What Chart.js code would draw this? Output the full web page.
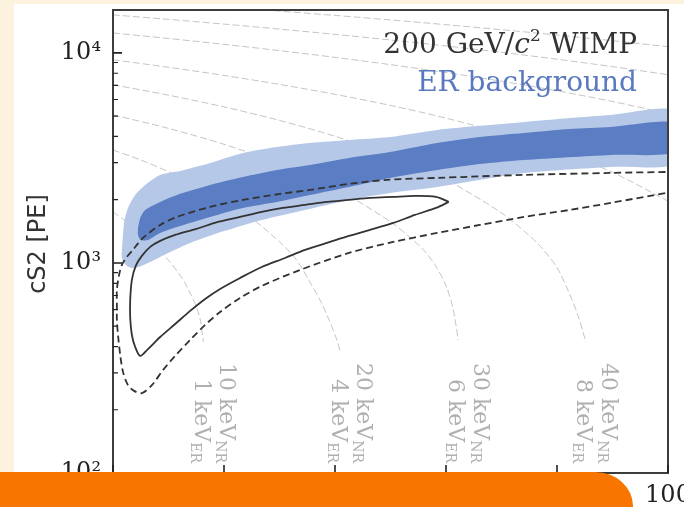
<!DOCTYPE html>
<html>
<head>
<meta charset="utf-8">
<script src="https://cdn.jsdelivr.net/npm/chart.js@4.4.0/dist/chart.umd.min.js"></script>
<style>
html, body { margin: 0; padding: 0; }
body { width: 684px; height: 507px; background: #fdf2dd; position: relative; overflow: hidden; }
#panel { position: absolute; left: 14px; top: 4px; width: 670px; height: 503px; background: #fff; }
#bar { position: absolute; left: 0; top: 472px; width: 633px; height: 35px; background: #f87500; border-top-right-radius: 38px 34px; }
</style>
</head>
<body>
<div id="panel"><canvas id="chart" width="670" height="503"></canvas></div>
<div id="bar"></div>
<script>
// axes
const xTicks = [0, 20, 40, 60, 80, 100];
const yTicks = [100, 1000, 10000];
const yTickLabels = ['10²', '10³', '10⁴'];

// ER background bands, outlines as [cS1, cS2]
const erOuter = [[1.6,1153],[2.0,1550],[2.7,1828],[4.0,2108],[5.8,2352],[8.5,2625],[12.1,2743],[17.5,2994],
    [23.4,3340],[29.5,3568],[35.5,3728],[42.5,3852],[49.9,3981],[58.4,4299],[66.1,4493],[74.1,4693],
    [82.3,4903],[89.7,5068],[101.5,5294],[101.5,2994],[89.7,2865],[74.1,2683],[58.4,2301],[49.9,2154],
    [42.5,1995],[34.6,1788],[26.8,1602],[18.9,1389],[13.9,1245],[10.3,1128],[6.7,1011],[4.0,947],
    [2.5,968],[1.6,1056],[1.6,1153]];
const erInner = [[4.5,1468],[4.9,1638],[5.8,1788],[8.5,1952],[11.5,2108],[17.5,2352],[23.4,2567],[29.5,2773],
    [35.5,2929],[42.5,3162],[49.9,3377],[58.4,3728],[66.1,3981],[74.1,4159],[82.3,4346],[89.7,4443],
    [101.5,4642],[101.5,3377],[89.7,3268],[74.1,3094],[66.1,2961],[58.4,2773],[49.9,2540],[42.5,2301],
    [35.5,2108],[29.5,1952],[23.4,1828],[17.5,1656],[11.5,1484],[8.5,1389],[6.3,1287],[5.0,1287],
    [4.5,1359],[4.5,1468]];

// 200 GeV WIMP contours
const wimpInner = [[60.5,1952],[58.2,2063],[54.4,2084],[50.5,2063],[46.3,2040],[42.5,1995],[38.6,1952],
    [34.6,1889],[30.6,1828],[26.8,1750],[22.9,1656],[18.9,1567],[15.0,1452],[11.2,1359],[8.5,1273],
    [6.7,1192],[5.2,1080],[4.1,968],[3.4,830],[3.1,666],[3.1,547],[3.4,454],[4.0,398],[4.9,361],
    [6.3,389],[8.5,444],[11.2,512],[13.9,591],[16.6,674],[19.3,752],[22.9,848],[26.8,957],[31.0,1056],
    [34.6,1153],[39.1,1259],[42.5,1345],[46.3,1437],[50.5,1550],[54.4,1693],[58.2,1828],[60.5,1952]];
const wimpOuter = [[101.5,2714],[89.7,2683],[74.1,2625],[58.4,2540],[49.4,2485],[42.5,2378],[35.5,2227],
    [30.1,2131],[23.4,1995],[17.5,1848],[11.5,1656],[8.5,1517],[5.6,1330],[4.3,1218],[3.6,1153],
    [2.5,1068],[1.6,979],[1.1,877],[0.7,744],[0.7,631],[0.7,535],[0.9,454],[1.3,365],[1.8,303],
    [2.7,262],[3.8,246],[5.2,240],[7.0,262],[9.0,309],[11.2,361],[13.9,430],[16.6,507],[19.3,584],
    [22.9,681],[26.8,777],[33.7,926],[42.5,1116],[50.5,1259],[58.4,1389],[66.1,1517],[74.1,1656],
    [82.3,1788],[89.7,1931],[101.5,2200]];

// iso-energy lines
const isoA = [[0,1750],[3,1530],[6,1310],[8,1170],[10,1030],[12,880],[13,800],[14,710],[15,620],[15.7,540],[16.3,420]];
const isoB = [[0,3450],[5,3090],[10,2720],[15,2360],[20,1990],[25,1630],[30,1260],[33,1040],[35.5,810],
    [37.5,650],[39,530],[40.2,440],[41,375]];
const isoC = [[0,5070],[10,4370],[20,3670],[30,2970],[40,2270],[50,1570],[54,1290],[56,1150],[58,980],
    [60,780],[61.3,600],[62.2,430]];
const isoD = [[0,7050],[10,6290],[20,5530],[30,4770],[40,4010],[50,3250],[60,2490],[70,1730],[75,1350],
    [77.5,1160],[80,950],[82,740],[83.8,560],[85.2,420]];
const isoE = [[0,9270],[10,8540],[20,7810],[30,7080],[40,6350],[50,5620],[60,4890],[70,4160],[80,3430],[90,2700],[100,1970]];
const isoF = [[0,12440],[10,11710],[20,10980],[30,10250],[40,9520],[50,8790],[60,8060],[70,7330],[80,6600],[90,5870],[100,5140]];
const isoG = [[0,15170],[10,14440],[20,13710],[30,12980],[40,12250],[50,11520],[60,10790],[70,10060],[80,9330],[90,8600],[100,7870]];
const isoH = [[20,16540],[30,15810],[40,15080],[50,14350],[60,13620],[70,12890],[80,12160],[90,11430],[100,10700]];
const isoNR = ['10 keV', '20 keV', '30 keV', '40 keV'];
const isoER = ['1 keV', '4 keV', '6 keV', '8 keV'];

function pts(arr) {
    return arr.map(p => ({x: p[0], y: p[1]}));
}

function grayLine(arr) {
    return {data: pts(arr), borderColor: 'rgba(150,150,150,0.55)', borderWidth: 1, borderDash: [7, 3],
        tension: 0.3, order: 10};
}

function drawRotated(ctx, cx, yEnd, main, sub) {
    ctx.save();
    ctx.translate(cx, yEnd);
    ctx.rotate(Math.PI / 2);
    ctx.textBaseline = 'middle';
    ctx.textAlign = 'left';
    ctx.font = '22px "DejaVu Serif"';
    const w1 = ctx.measureText(main).width;
    ctx.font = '14px "DejaVu Serif"';
    const w2 = ctx.measureText(sub).width;
    ctx.font = '22px "DejaVu Serif"';
    ctx.fillText(main, -w1 - w2, 0);
    ctx.font = '14px "DejaVu Serif"';
    ctx.fillText(sub, -w2, 6);
    ctx.restore();
}

const decor = {
    id: 'decor',
    afterDatasetsDraw(chart) {
        const {ctx, chartArea: a, scales: {x, y}} = chart;
        ctx.save();

        // labels of the iso-energy lines
        ctx.fillStyle = '#b0b0b0';
        [isoA, isoB, isoC, isoD].forEach((line, i) => {
            const end = line[line.length - 1];
            const px = x.getPixelForValue(end[0]);
            drawRotated(ctx, px + 22, a.bottom - 10, isoNR[i], 'NR');
            drawRotated(ctx, px - 3, a.bottom - 10, isoER[i], 'ER');
        });

        // frame
        ctx.strokeStyle = '#3d3d3d';
        ctx.lineWidth = 2;
        ctx.strokeRect(a.left, a.top, a.right - a.left, a.bottom - a.top);

        // inward ticks
        ctx.strokeStyle = '#222';
        ctx.lineWidth = 1.6;
        ctx.beginPath();
        xTicks.forEach(v => {
            const px = x.getPixelForValue(v);
            ctx.moveTo(px, a.bottom);
            ctx.lineTo(px, a.bottom - 8);
        });
        yTicks.forEach(v => {
            const py = y.getPixelForValue(v);
            ctx.moveTo(a.left, py);
            ctx.lineTo(a.left + 9, py);
        });
        ctx.stroke();
        ctx.lineWidth = 1.2;
        ctx.beginPath();
        [100, 1000].forEach(d => {
            for (let m = 2; m <= 9; m++) {
                const py = y.getPixelForValue(m * d);
                ctx.moveTo(a.left, py);
                ctx.lineTo(a.left + 5, py);
            }
        });
        ctx.stroke();

        // legend text
        const right = a.right - 31;
        ctx.textBaseline = 'alphabetic';
        ctx.textAlign = 'left';
        const parts = [
            ['200 GeV/', '28px "DejaVu Serif"', 0],
            ['c', 'italic 28px "DejaVu Serif"', 0],
            ['2', '17px "DejaVu Serif"', -12],
            [' WIMP', '28px "DejaVu Serif"', 0]
        ];
        let total = 0;
        parts.forEach(p => { ctx.font = p[1]; total += ctx.measureText(p[0]).width; });
        let cx = right - total;
        ctx.fillStyle = '#333';
        parts.forEach(p => {
            ctx.font = p[1];
            ctx.fillText(p[0], cx, 49 + p[2]);
            cx += ctx.measureText(p[0]).width;
        });
        ctx.font = '28px "DejaVu Serif"';
        ctx.textAlign = 'right';
        ctx.fillStyle = '#5a7abf';
        ctx.fillText('ER background', right, 87);

        // y title
        ctx.translate(25, 240);
        ctx.rotate(-Math.PI / 2);
        ctx.textAlign = 'center';
        ctx.textBaseline = 'middle';
        ctx.fillStyle = '#333';
        ctx.font = '24px "DejaVu Sans"';
        ctx.fillText('cS2 [PE]', 0, 0);
        ctx.restore();
    }
};

const tickFont = {family: 'DejaVu Serif', size: 24};

new Chart(document.getElementById('chart'), {
    type: 'scatter',
    data: {
        datasets: [
            grayLine(isoA), grayLine(isoB), grayLine(isoC), grayLine(isoD),
            grayLine(isoE), grayLine(isoF), grayLine(isoG), grayLine(isoH),
            {data: pts(erOuter), borderWidth: 0, borderColor: 'rgba(0,0,0,0)', backgroundColor: '#b6c8e8',
                fill: 'shape', tension: 0.25, order: 8},
            {data: pts(erInner), borderWidth: 0, borderColor: 'rgba(0,0,0,0)', backgroundColor: '#5a7dc3',
                fill: 'shape', tension: 0.25, order: 7},
            {data: pts(wimpOuter), borderColor: '#333', borderWidth: 1.8, borderDash: [7, 4],
                tension: 0.3, order: 2},
            {data: pts(wimpInner), borderColor: '#333', borderWidth: 1.8, tension: 0.3, order: 1}
        ]
    },
    options: {
        responsive: false,
        animation: false,
        showLine: true,
        clip: 0,
        elements: {point: {radius: 0, hoverRadius: 0}},
        layout: {padding: {left: 0, right: 16, top: 6, bottom: 0}},
        plugins: {legend: {display: false}, tooltip: {enabled: false}},
        events: [],
        scales: {
            x: {
                type: 'linear', min: 0, max: 100,
                border: {display: false},
                grid: {display: false, drawTicks: false},
                ticks: {padding: 8, color: '#222', font: tickFont, maxRotation: 0},
                afterBuildTicks: s => { s.ticks = xTicks.map(v => ({value: v})); },
                afterFit: s => { s.height = 34; s.paddingLeft = 0; s.paddingRight = 0; }
            },
            y: {
                type: 'logarithmic', min: 100, max: 16000,
                border: {display: false},
                grid: {display: false, drawTicks: false},
                ticks: {
                    padding: 12, color: '#222', font: tickFont,
                    callback: v => {
                        const i = yTicks.indexOf(v);
                        return i >= 0 ? yTickLabels[i] : '';
                    }
                },
                afterBuildTicks: s => { s.ticks = yTicks.map(v => ({value: v})); },
                afterFit: s => { s.width = 99; s.paddingTop = 0; s.paddingBottom = 0; }
            }
        }
    },
    plugins: [decor]
});
</script>
</body>
</html>
